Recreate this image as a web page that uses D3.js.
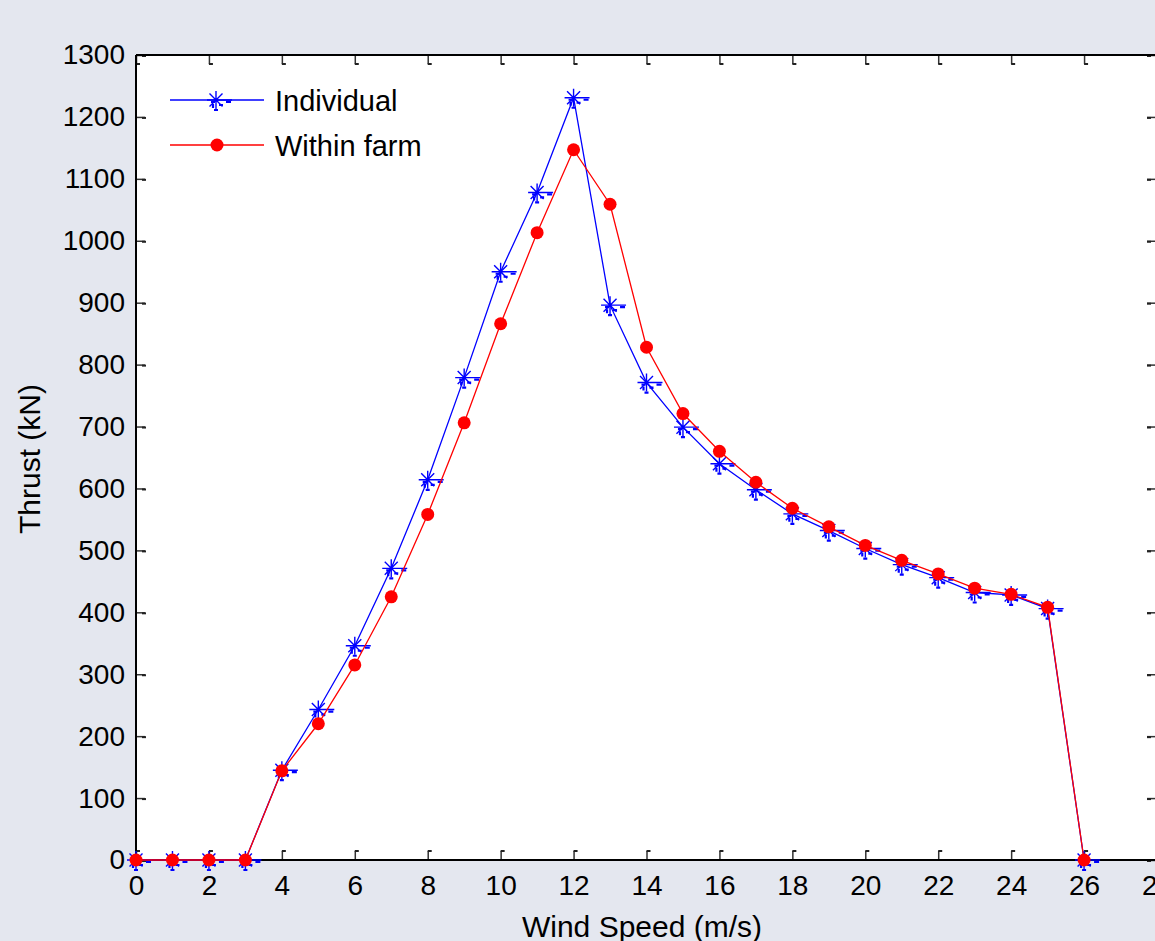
<!DOCTYPE html>
<html>
<head>
<meta charset="utf-8">
<script src="https://cdn.jsdelivr.net/npm/d3@7"></script>
<style>
  html, body { margin: 0; padding: 0; background: #e4e7ef; overflow: hidden; }
  svg { display: block; font-family: "Liberation Sans", Arial, sans-serif; }
</style>
</head>
<body>
<svg id="chart" width="1155" height="941"></svg>
<script>
// wind speed (m/s)
var windSpeed = [0, 1, 2, 3, 4, 5, 6, 7, 8, 9, 10, 11, 12, 13, 14, 15, 16, 17, 18, 19, 20, 21, 22, 23, 24, 25, 26];
// thrust (kN)
var individual = [0, 0, 0, 0, 145, 243, 346, 471, 614, 779, 950, 1078, 1231, 896, 771, 699, 640, 598, 559, 532, 503, 477, 456, 432, 428, 406, 0];
var withinFarm = [0, 0, 0, 0, 144, 220, 315, 425, 558, 706, 866, 1013, 1147, 1059, 828, 721, 660, 610, 568, 538, 508, 484, 462, 439, 429, 408, 0];
var xTicks = d3.range(0, 29, 2);
var yTicks = d3.range(0, 1301, 100);
var seriesNames = ["Individual", "Within farm"];

var svg = d3.select("#chart"),
    axL = 136, axT = 55, axB = 860, axR = 1157;

var x = d3.scaleLinear().domain([0, 28]).range([axL, axR]);
var y = d3.scaleLinear().domain([0, 1300]).range([axB, axT]);

svg.append("rect")
    .attr("x", axL).attr("y", axT)
    .attr("width", axR - axL).attr("height", axB - axT)
    .attr("fill", "#fff");

// axes, ticks inward like matlab
function styleAxis(g) {
    g.select(".domain").remove();
    g.selectAll(".tick line").attr("stroke", "#333").attr("stroke-width", 1.5);
    g.selectAll(".tick text").attr("fill", "#000").style("font-size", "28px");
}

svg.append("g")
    .attr("transform", "translate(" + axL + ",0)")
    .call(d3.axisLeft(y).tickValues(yTicks).tickSize(-9).tickPadding(11).tickFormat(d3.format("d")))
    .call(styleAxis);

svg.append("g")
    .attr("transform", "translate(0," + axB + ")")
    .call(d3.axisBottom(x).tickValues(xTicks).tickSize(-9).tickPadding(15).tickFormat(d3.format("d")))
    .call(styleAxis);

svg.append("g")
    .attr("transform", "translate(0," + axT + ")")
    .call(d3.axisTop(x).tickValues(xTicks).tickSize(-9).tickFormat(""))
    .call(styleAxis);

svg.append("g")
    .attr("transform", "translate(" + (axR - 1) + ",0)")
    .call(d3.axisRight(y).tickValues(yTicks).tickSize(-9).tickFormat(""))
    .call(styleAxis);

// little tick feet (rendering artefacts in the original)
svg.selectAll(".footT").data(xTicks).enter().append("rect")
    .attr("x", function (d) { return x(d); }).attr("y", axT + 8)
    .attr("width", 4).attr("height", 2).attr("fill", "#222");
svg.selectAll(".footB").data(xTicks).enter().append("rect")
    .attr("x", function (d) { return x(d); }).attr("y", axB - 10)
    .attr("width", 4).attr("height", 2).attr("fill", "#222");
svg.selectAll(".footL").data(yTicks).enter().append("rect")
    .attr("x", axL + 6).attr("y", function (d) { return y(d); })
    .attr("width", 4).attr("height", 2).attr("fill", "#222");
svg.selectAll(".footR").data(yTicks).enter().append("rect")
    .attr("x", axR - 10).attr("y", function (d) { return y(d); })
    .attr("width", 4).attr("height", 2).attr("fill", "#222");

svg.append("path")
    .attr("d", "M" + axL + "," + axT + "H" + axR + "M" + axL + "," + axT + "V" + axB + "H" + axR)
    .attr("fill", "none").attr("stroke", "#000").attr("stroke-width", 2);

// axis labels
svg.append("text")
    .attr("x", 642).attr("y", 937)
    .attr("text-anchor", "middle")
    .style("font-size", "30px")
    .text("Wind Speed (m/s)");

svg.append("text")
    .attr("transform", "translate(40," + 459 + ") rotate(-90)")
    .attr("text-anchor", "middle")
    .style("font-size", "30px")
    .text("Thrust (kN)");

var line = d3.line()
    .x(function (d, i) { return x(windSpeed[i]); })
    .y(function (d) { return y(d); });

// asterisk marker with the dashed smudge
function asterisk(g) {
    g.append("path")
        .attr("d", "M-9,0H16M0,-9V9M-6.5,-6.5L6.5,6.5M-6.5,6.5L6.5,-6.5")
        .attr("stroke", "#0000ff").attr("stroke-width", 1.4).attr("fill", "none");
    g.append("path")
        .attr("d", "M-5,2h4M10,2h5M-3,4v4M-2,10h4M3,5h4")
        .attr("stroke", "#0000ff").attr("stroke-width", 2.2).attr("fill", "none");
}

svg.append("path")
    .datum(individual)
    .attr("d", line)
    .attr("fill", "none").attr("stroke", "#0000ff").attr("stroke-width", 1.3);

svg.selectAll(".mIndividual").data(individual).enter().append("g")
    .attr("transform", function (d, i) { return "translate(" + x(windSpeed[i]) + "," + y(d) + ")"; })
    .each(function () { asterisk(d3.select(this)); });

svg.append("path")
    .datum(withinFarm)
    .attr("d", line)
    .attr("fill", "none").attr("stroke", "#ff0000").attr("stroke-width", 1.3);

svg.selectAll(".mFarm").data(withinFarm).enter().append("circle")
    .attr("cx", function (d, i) { return x(windSpeed[i]); })
    .attr("cy", function (d) { return y(d); })
    .attr("r", 6.5).attr("fill", "#ff0000");

// legend (no box)
var legend = svg.append("g");
var lg1 = legend.append("g").attr("transform", "translate(0,100)");
lg1.append("line").attr("x1", 170).attr("x2", 264).attr("stroke", "#0000ff").attr("stroke-width", 1.3);
asterisk(lg1.append("g").attr("transform", "translate(216,0)"));
lg1.append("text").attr("x", 275).attr("y", 11).style("font-size", "29px").text(seriesNames[0]);

var lg2 = legend.append("g").attr("transform", "translate(0,145)");
lg2.append("line").attr("x1", 170).attr("x2", 264).attr("stroke", "#ff0000").attr("stroke-width", 1.3);
lg2.append("circle").attr("cx", 217).attr("r", 6.5).attr("fill", "#ff0000");
lg2.append("text").attr("x", 275).attr("y", 11).style("font-size", "29px").text(seriesNames[1]);
</script>
</body>
</html>
